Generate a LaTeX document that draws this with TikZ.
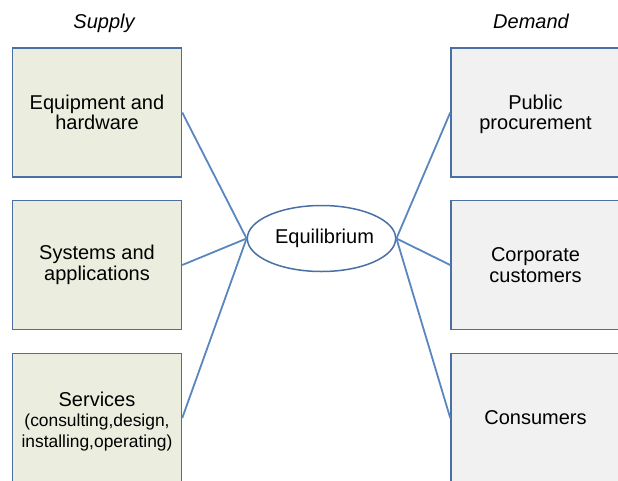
\documentclass[tikz,border=0pt]{standalone}
\usepackage{fontspec}
\setmainfont{Liberation Sans}
\usetikzlibrary{shapes.geometric}
\definecolor{boxborder}{HTML}{4A6FA5}
\definecolor{linkcol}{HTML}{5A86C0}
\definecolor{supfill}{HTML}{EBEEDF}
\definecolor{demfill}{HTML}{F1F1F1}
\tikzset{
  basebox/.style={draw=boxborder, line width=1.5pt, rectangle, minimum width=169pt, minimum height=129pt, inner sep=0pt, align=center, font=\fontsize{20}{20.5}\selectfont},
  supbox/.style={basebox, fill=supfill},
  dembox/.style={basebox, fill=demfill},
  eqnode/.style={draw=boxborder, line width=1.5pt, ellipse, fill=white, minimum width=147pt, minimum height=66pt, inner sep=0pt, font=\fontsize{20}{20.5}\selectfont},
  link/.style={draw=linkcol, line width=1.8pt},
  headlabel/.style={anchor=base, inner sep=0pt, font=\fontsize{20}{20.5}\selectfont\itshape}
}
\begin{document}
\begin{tikzpicture}[x=1pt, y=-1pt]
\useasboundingbox (0,0) rectangle (618,480);
\clip (0,0) rectangle (618,480);
\fill[white] (0,0) rectangle (618,480);

\node[headlabel] (sup) at (104,28) {Supply};
\node[headlabel] (dem) at (531,28) {Demand};

\node[supbox] (s1) at (97,112.5) {Equipment and\\hardware};
\node[supbox] (s2) at (97,265) {Systems and\\applications};
\node[supbox] (s3) at (97,418) {\rule{0pt}{21.5pt}Services\\\fontsize{17.4}{20.5}\selectfont(consulting,design,\\\fontsize{17.4}{20.5}\selectfont installing,operating)};

\node[dembox] (d1) at (535.5,112.5) {\rule{0pt}{18.5pt}Public\\procurement};
\node[dembox] (d2) at (535.5,265) {Corporate\\customers};
\node[dembox] (d3) at (535.5,418) {Consumers};

\node[eqnode] (eq) at (321.5,238.5) {\hspace{6pt}Equilibrium};

\draw[link] (eq.west) -- (s1.east);
\draw[link] (eq.west) -- (s2.east);
\draw[link] (eq.west) -- (s3.east);
\draw[link] (eq.east) -- (d1.west);
\draw[link] (eq.east) -- (d2.west);
\draw[link] (eq.east) -- (d3.west);
\end{tikzpicture}
\end{document}
